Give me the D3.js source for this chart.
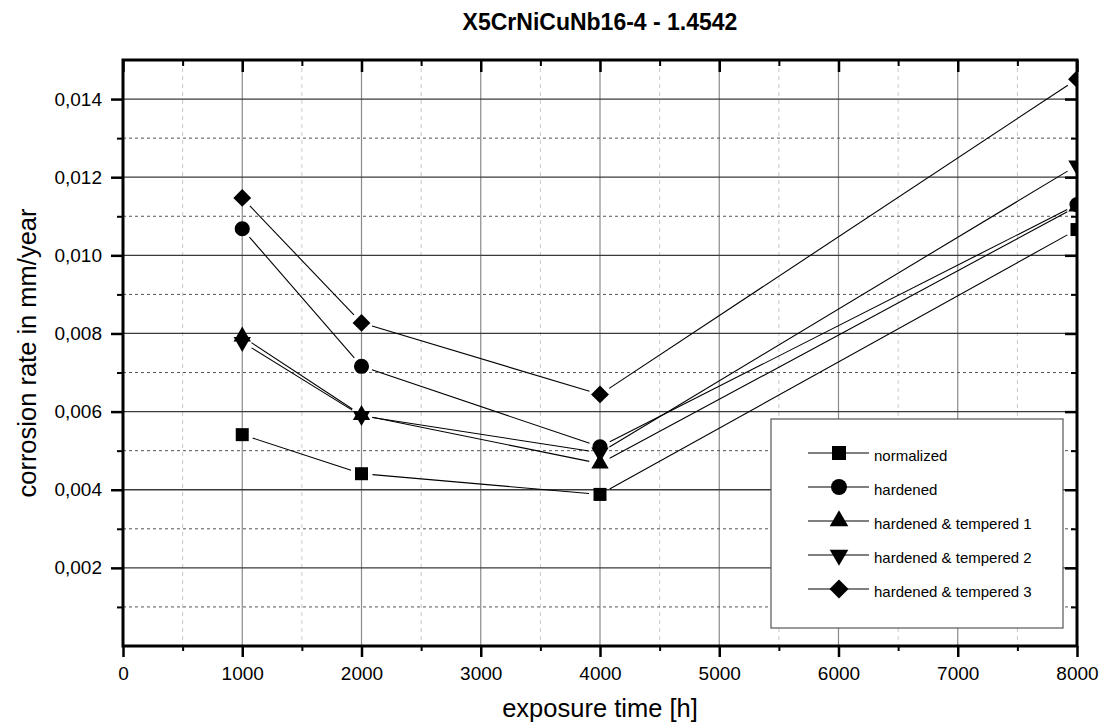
<!DOCTYPE html>
<html>
<head>
<meta charset="utf-8">
<script src="https://cdn.jsdelivr.net/npm/d3@7"></script>
<style>
  body { margin: 0; background: #fff; }
  text { font-family: "Liberation Sans", Arial, sans-serif; fill: #000; }
</style>
</head>
<body>
<div id="chart"></div>
<script>
  // ==========================================================================
  // Data
  // ==========================================================================
  const hours = [1000, 2000, 4000, 8000];
  const normalized = [0.00541, 0.00441, 0.00388, 0.01066];
  const hardened   = [0.01068, 0.00716, 0.00510, 0.01130];
  const tempered1  = [0.00792, 0.00591, 0.00467, 0.01125];
  const tempered2  = [0.00778, 0.00589, 0.00495, 0.01230];
  const tempered3  = [0.01147, 0.00827, 0.00644, 0.01451];

  const seriesNames = ["normalized", "hardened", "hardened & tempered 1",
                       "hardened & tempered 2", "hardened & tempered 3"];
  const seriesValues = [normalized, hardened, tempered1, tempered2, tempered3];

  const xMajorTicks = [0, 1000, 2000, 3000, 4000, 5000, 6000, 7000, 8000];
  const xMinorTicks = [500, 1500, 2500, 3500, 4500, 5500, 6500, 7500];
  const yMajorTicks = [0.002, 0.004, 0.006, 0.008, 0.010, 0.012, 0.014];
  const yMinorTicks = [0.001, 0.003, 0.005, 0.007, 0.009, 0.011, 0.013];

  // ==========================================================================
  // Dimensions
  // ==========================================================================
  const width = 1106, height = 726;
  const margin = { top: 60, right: 29, bottom: 80, left: 123 };
  const iwidth = width - margin.left - margin.right,
        iheight = height - margin.top - margin.bottom;

  const svg = d3.select("#chart").append("svg")
    .attr("width", width)
    .attr("height", height);

  const g = svg.append("g")
    .attr("transform", `translate(${margin.left},${margin.top})`);

  const x = d3.scaleLinear().domain([0, 8000]).range([0, iwidth]);
  const y = d3.scaleLinear().domain([0, 0.015]).range([iheight, 0]);

  svg.append("defs").append("clipPath").attr("id", "plotclip")
    .append("rect").attr("width", iwidth).attr("height", iheight);

  // ==========================================================================
  // Grid
  // ==========================================================================
  g.selectAll("line.vminor").data(xMinorTicks).enter().append("line")
    .attr("x1", d => x(d)).attr("x2", d => x(d))
    .attr("y1", 0).attr("y2", iheight)
    .attr("stroke", "#c8c8c8").attr("stroke-width", 1)
    .attr("stroke-dasharray", "4,4");

  g.selectAll("line.vmajor").data(xMajorTicks.slice(1, -1)).enter().append("line")
    .attr("x1", d => x(d)).attr("x2", d => x(d))
    .attr("y1", 0).attr("y2", iheight)
    .attr("stroke", "#8a8a8a").attr("stroke-width", 1.2);

  g.selectAll("line.hminor").data(yMinorTicks).enter().append("line")
    .attr("x1", 0).attr("x2", iwidth)
    .attr("y1", d => y(d)).attr("y2", d => y(d))
    .attr("stroke", "#555").attr("stroke-width", 1)
    .attr("stroke-dasharray", "3,3");

  g.selectAll("line.hmajor").data(yMajorTicks).enter().append("line")
    .attr("x1", 0).attr("x2", iwidth)
    .attr("y1", d => y(d)).attr("y2", d => y(d))
    .attr("stroke", "#3a3a3a").attr("stroke-width", 1.3);

  // ==========================================================================
  // Series lines (Origin style: small gap next to each marker)
  // ==========================================================================
  const gap = 11;
  seriesValues.forEach(vals => {
    for (let i = 0; i < vals.length - 1; i++) {
      const x1 = x(hours[i]), y1 = y(vals[i]),
            x2 = x(hours[i + 1]), y2 = y(vals[i + 1]);
      const len = Math.hypot(x2 - x1, y2 - y1),
            ux = (x2 - x1) / len, uy = (y2 - y1) / len;
      g.append("line")
        .attr("x1", x1 + ux * gap).attr("y1", y1 + uy * gap)
        .attr("x2", x2 - ux * gap).attr("y2", y2 - uy * gap)
        .attr("stroke", "#000").attr("stroke-width", 1.1);
    }
  });

  // ==========================================================================
  // Markers
  // ==========================================================================
  const markers = [
    { type: d3.symbolSquare,   size: 169, rot: 0 },
    { type: d3.symbolCircle,   size: 180, rot: 0 },
    { type: d3.symbolTriangle, size: 130, rot: 0 },
    { type: d3.symbolTriangle, size: 130, rot: 180 },
    { type: d3.symbolSquare,   size: 160, rot: 45 }
  ];

  const gMarks = g.append("g").attr("clip-path", "url(#plotclip)");
  seriesValues.forEach((vals, s) => {
    const m = markers[s];
    gMarks.selectAll(null).data(vals).enter().append("path")
      .attr("d", d3.symbol().type(m.type).size(m.size))
      .attr("transform", (d, i) => `translate(${x(hours[i])},${y(d)}) rotate(${m.rot})`)
      .attr("fill", "#000");
  });

  // ==========================================================================
  // Axes
  // ==========================================================================
  const locale = d3.formatLocale({ decimal: ",", thousands: ".", grouping: [3], currency: ["", ""] });
  const yFmt = locale.format(".3f");

  function style_axis(sel, w) {
    sel.select(".domain").remove();
    sel.selectAll(".tick line").attr("stroke", "#000").attr("stroke-width", w);
    sel.selectAll("text")
      .style("font-family", "Liberation Sans, Arial, sans-serif")
      .style("font-size", "19px")
      .attr("fill", "#000");
  }

  // bottom
  g.append("g").attr("transform", `translate(0,${iheight})`)
    .call(d3.axisBottom(x).tickValues(xMajorTicks).tickSize(11).tickPadding(10)
      .tickFormat(d3.format("d")))
    .call(s => style_axis(s, 2.5));
  g.append("g").attr("transform", `translate(0,${iheight})`)
    .call(d3.axisBottom(x).tickValues(xMinorTicks).tickSize(5).tickFormat(""))
    .call(s => style_axis(s, 2));

  // top (inward)
  g.append("g")
    .call(d3.axisBottom(x).tickValues(xMajorTicks).tickSize(12).tickFormat(""))
    .call(s => style_axis(s, 2.5));
  g.append("g")
    .call(d3.axisBottom(x).tickValues(xMinorTicks).tickSize(6).tickFormat(""))
    .call(s => style_axis(s, 2));

  // left
  g.append("g")
    .call(d3.axisLeft(y).tickValues(yMajorTicks).tickSize(12).tickPadding(9).tickFormat(yFmt))
    .call(s => style_axis(s, 2.5));
  g.append("g")
    .call(d3.axisLeft(y).tickValues(yMinorTicks).tickSize(6).tickFormat(""))
    .call(s => style_axis(s, 2));

  // right (inward)
  g.append("g").attr("transform", `translate(${iwidth},0)`)
    .call(d3.axisLeft(y).tickValues(yMajorTicks).tickSize(12).tickFormat(""))
    .call(s => style_axis(s, 2.5));
  g.append("g").attr("transform", `translate(${iwidth},0)`)
    .call(d3.axisLeft(y).tickValues(yMinorTicks).tickSize(6).tickFormat(""))
    .call(s => style_axis(s, 2));

  // frame
  g.append("rect")
    .attr("width", iwidth).attr("height", iheight)
    .attr("fill", "none").attr("stroke", "#000").attr("stroke-width", 3);

  // ==========================================================================
  // Titles
  // ==========================================================================
  svg.append("text")
    .attr("x", margin.left + iwidth / 2).attr("y", 30)
    .attr("text-anchor", "middle")
    .style("font-size", "23px").style("font-weight", "bold")
    .text("X5CrNiCuNb16-4 - 1.4542");

  svg.append("text")
    .attr("x", margin.left + iwidth / 2).attr("y", 717)
    .attr("text-anchor", "middle")
    .style("font-size", "25.5px")
    .text("exposure time [h]");

  svg.append("text")
    .attr("transform", `translate(36,${margin.top + iheight / 2})rotate(-90)`)
    .attr("text-anchor", "middle")
    .style("font-size", "25.5px")
    .text("corrosion rate in mm/year");

  // ==========================================================================
  // Legend
  // ==========================================================================
  const legend = svg.append("g").attr("transform", "translate(771,419)");
  legend.append("rect")
    .attr("width", 292).attr("height", 209)
    .attr("fill", "#fff").attr("stroke", "#555").attr("stroke-width", 1.2);

  const legendMarkers = [
    { type: d3.symbolSquare,   size: 196, rot: 0 },
    { type: d3.symbolCircle,   size: 200, rot: 0 },
    { type: d3.symbolTriangle, size: 150, rot: 0 },
    { type: d3.symbolTriangle, size: 150, rot: 180 },
    { type: d3.symbolSquare,   size: 180, rot: 45 }
  ];

  const rows = legend.selectAll("g.row").data(seriesNames).enter().append("g")
    .attr("transform", (d, i) => `translate(0,${34 + i * 34})`);
  rows.append("line")
    .attr("x1", 37).attr("x2", 98).attr("y1", 0).attr("y2", 0)
    .attr("stroke", "#000").attr("stroke-width", 1.1);
  rows.append("path")
    .attr("d", (d, i) => d3.symbol().type(legendMarkers[i].type).size(legendMarkers[i].size)())
    .attr("transform", (d, i) => `translate(68,0) rotate(${legendMarkers[i].rot})`)
    .attr("fill", "#000");
  rows.append("text")
    .attr("x", 103).attr("y", 8)
    .style("font-size", "15px")
    .text(d => d);
</script>
</body>
</html>
